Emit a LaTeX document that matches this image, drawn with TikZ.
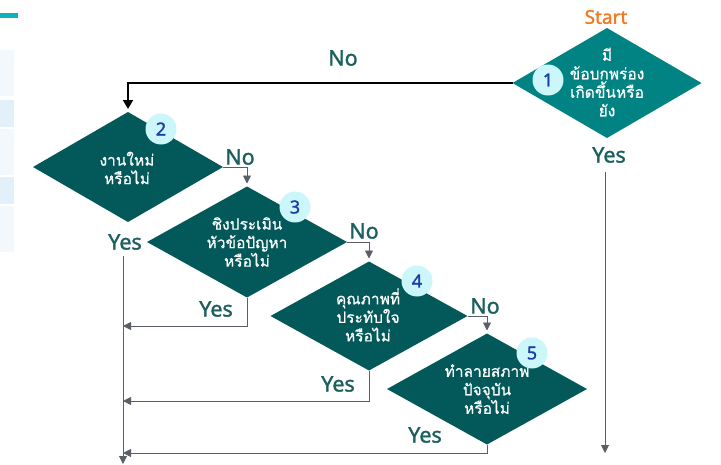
\documentclass[tikz,border=0pt]{standalone}
\usepackage{fontspec}
\setmainfont{Noto Sans}
\newfontfamily\thaifont[Script=Thai,FakeBold=0.7]{Loma}
\newfontfamily\lblfont[FakeBold=1.4]{Noto Sans}
\usepackage{xcolor}
\usepackage{tikz}
\usetikzlibrary{shapes.geometric, arrows.meta}

\definecolor{dfirst}{HTML}{008382}
\definecolor{dfill}{HTML}{03595A}
\definecolor{badge}{HTML}{CBF6FA}
\definecolor{badgetxt}{HTML}{1A3DA8}
\definecolor{lbltxt}{HTML}{1B5F5F}
\definecolor{starttxt}{HTML}{F47A22}
\definecolor{flowgrey}{HTML}{5A5E66}
\definecolor{panelA}{HTML}{F2F8FC}
\definecolor{panelB}{HTML}{E2F0F9}
\definecolor{topbar}{HTML}{10B3B9}

\tikzstyle{decision} = [diamond, fill=dfill, inner sep=0pt, outer sep=0pt]
\tikzstyle{dtext} = [text=white, align=center, font=\thaifont\fontsize{15.5}{18.5}\selectfont]
\tikzstyle{numbadge} = [circle, fill=badge, minimum size=31pt, inner sep=0pt, text=badgetxt, font=\lblfont\fontsize{18}{18}\selectfont]
\tikzstyle{yesno} = [text=lbltxt, font=\lblfont\fontsize{21.5}{21.5}\selectfont]
\tikzstyle{flowarrow} = [flowgrey, line width=0.9pt, -{Triangle[length=8pt,width=8pt]}]
\tikzstyle{mainarrow} = [black, line width=1.8pt, -{Triangle[length=9pt,width=10pt]}]

\begin{document}
\begin{tikzpicture}[x=1pt,y=-1pt]
	\useasboundingbox (0,0) rectangle (721,464);

	% side panel left over from the slide
	\fill[topbar] (0,13) rectangle (18,18);
	\fill[panelA] (0,50) rectangle (14,96);
	\fill[panelB] (0,100) rectangle (14,127);
	\fill[panelA] (0,129) rectangle (14,175);
	\fill[panelB] (0,177) rectangle (14,204);
	\fill[panelA] (0,206) rectangle (14,252);

	% Decisions:
	\node [decision, fill=dfirst, minimum width=189pt, minimum height=110pt] (d1) at (607,83) {};
	\node [decision, minimum width=190pt, minimum height=110pt] (d2) at (128,167) {};
	\node [decision, minimum width=200pt, minimum height=111pt] (d3) at (247,242) {};
	\node [decision, minimum width=197pt, minimum height=109pt] (d4) at (369,316) {};
	\node [decision, minimum width=200pt, minimum height=111pt] (d5) at (487,389) {};

	% Texts inside the decisions
	\node [dtext] (t1) at (607,82) {มี\\ข้อบกพร่อง\\เกิดขึ้นหรือ\\ยัง};
	\node [dtext] (t2) at (127,168) {งานใหม่\\หรือไม่};
	\node [dtext] (t3) at (247,242) {ชิงประเมิน\\หัวข้อปัญหา\\หรือไม่};
	\node [dtext] (t4) at (368,315) {คุณภาพที่\\ประทับใจ\\หรือไม่};
	\node [dtext] (t5) at (487,389) {ทำลายสภาพ\\ปัจจุบัน\\หรือไม่};

	% Number badges
	\node [numbadge] (n1) at (548,80) {1};
	\node [numbadge] (n2) at (161,129) {2};
	\node [numbadge] (n3) at (295,207) {3};
	\node [numbadge] (n4) at (417,281) {4};
	\node [numbadge] (n5) at (532,353) {5};

	% Labels
	\node [text=starttxt, font=\lblfont\fontsize{19}{19}\selectfont] (start) at (606,17) {Start};
	\node [yesno] (no1) at (343,58) {No};
	\node [yesno] (yes1) at (609,155) {Yes};
	\node [yesno] (no2) at (240,157) {No};
	\node [yesno] (yes2) at (125,242) {Yes};
	\node [yesno] (no3) at (364,231) {No};
	\node [yesno] (yes3) at (216,309) {Yes};
	\node [yesno] (no4) at (485,306) {No};
	\node [yesno] (yes4) at (338,384) {Yes};
	\node [yesno] (yes5) at (425,435) {Yes};

	% Free ends of the connectors
	\coordinate (trunktop) at (123,256);
	\coordinate (trunkend) at (123,464);
	\coordinate (join3) at (123,326);
	\coordinate (join4) at (123,401);
	\coordinate (join5) at (123,453);
	\coordinate (endone) at (605,453);

	% Connectors:
	\draw [mainarrow, shorten >=3pt] (d1.west) -| (d2.north);
	\draw [flowarrow, shorten >=3pt] (d2.east) -| (d3.north);
	\draw [flowarrow, shorten >=3pt] (d3.east) -| (d4.north);
	\draw [flowarrow, shorten >=3pt] (d4.east) -| (d5.north);
	\draw [flowarrow] (trunktop) -- (trunkend);
	\draw [flowarrow] (d3.south) |- (join3);
	\draw [flowarrow] (d4.south) |- (join4);
	\draw [flowarrow] (d5.south) |- (join5);
	\draw [flowarrow] (yes1.south) ++(-4,6) -- (endone);
\end{tikzpicture}
\end{document}
